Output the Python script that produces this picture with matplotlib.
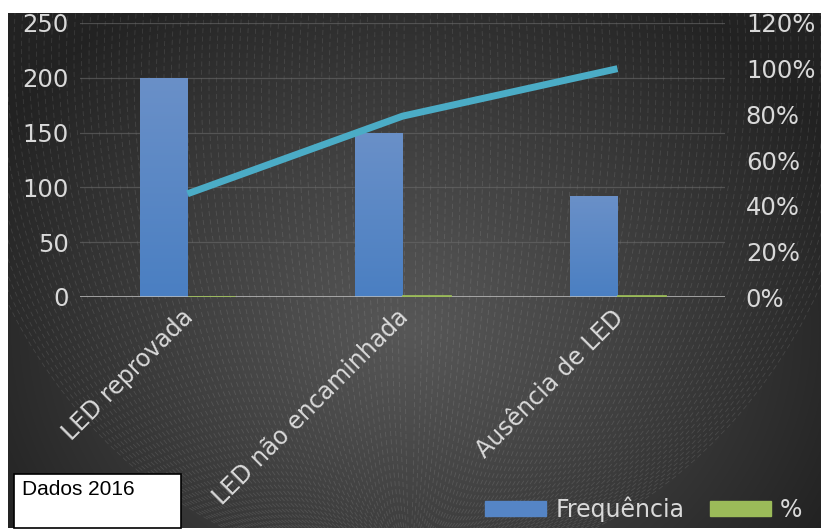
import numpy as np
import matplotlib.pyplot as plt
import matplotlib.transforms as mtransforms
from matplotlib.patches import Rectangle, Patch, Ellipse
from matplotlib.colors import LinearSegmentedColormap
from matplotlib.ticker import FuncFormatter, MultipleLocator

categories = ["LED reprovada", "LED não encaminhada", "Ausência de LED"]
frequencia = [200, 150, 92]
percent_bar = [0.45, 0.79, 1.0]
cumulative_pct = [0.452, 0.792, 1.0]

W, H = 821, 532
fig = plt.figure(figsize=(W / 100, H / 100), dpi=100)
fig.patch.set_facecolor("white")

# background panel (pixel coords, y downward) with radial gradient
bg = fig.add_axes([8 / W, 4 / H, (W - 8) / W, 515 / H])
bg.set_xlim(8, W)
bg.set_ylim(528, 13)
bg.axis("off")
yy, xx = np.mgrid[13:528, 8:W]
cx, cy = 410, 330
r = np.sqrt(((xx - cx) / 1.0) ** 2 + ((yy - cy) / 0.85) ** 2)
v = np.clip(r / 470, 0, 1)
lum = 0.34 - (0.34 - 0.135) * v ** 1.1
img = np.dstack([lum, lum, lum])
bg.imshow(img, extent=[8, W, 528, 13], aspect="auto", zorder=0)
# faint dashed texture of nested ellipses
for a in np.arange(6, 470, 7.5):
    b = 420 + a * 0.25
    e = Ellipse((410, 545 - b + a * 0.06), 2 * a, 2 * b, fill=False, edgecolor="white",
                lw=0.6, alpha=0.11, ls=(0, (6, 4)), zorder=1)
    bg.add_patch(e)

ax = fig.add_axes([80 / W, 1 - 297 / H, 645 / W, 274 / H])
ax.set_facecolor("none")
x = np.arange(len(categories))
bars = ax.bar(x - 0.11, frequencia, width=0.22, color="#5585c6", zorder=3)
grad = LinearSegmentedColormap.from_list("g", ["#4a7fc2", "#6a90c8"])
gimg = np.linspace(0, 1, 256).reshape(-1, 1)
for b in bars:
    b.set_facecolor("none")
    x0, w, h = b.get_x(), b.get_width(), b.get_height()
    im = ax.imshow(gimg, cmap=grad, origin="lower", extent=[x0, x0 + w, 0, h],
                   aspect="auto", zorder=3)
    im.set_clip_path(b)
ax.bar(x + 0.11, percent_bar, width=0.22, color="#9bbb59",
       edgecolor="#9bbb59", linewidth=2.0, zorder=5)
ax.set_xlim(-0.5, 2.5)
ax.set_ylim(0, 250)
ax.yaxis.set_major_locator(MultipleLocator(50))
ax.grid(axis="y", color="#6a6a6a", lw=0.9, alpha=0.6, zorder=0)
ax.axhline(0, color="#bfbfbf", lw=1.8, zorder=4)
for s in ax.spines.values():
    s.set_visible(False)
ax.tick_params(axis="y", length=0, pad=8, labelsize=17.5, labelcolor="#d9d9d9")
ax.set_xticks(x)
ax.set_xticklabels(categories, rotation=45, ha="right", rotation_mode="anchor",
                   fontsize=17, color="#d9d9d9")
ax.tick_params(axis="x", length=0, pad=6)
off = mtransforms.ScaledTranslation(-6 / 100, 0, fig.dpi_scale_trans)
for lab in ax.get_xticklabels():
    lab.set_transform(lab.get_transform() + off)

ax2 = ax.twinx()
ax2.plot(x, cumulative_pct, color="#4bacc6", lw=5, zorder=5, solid_capstyle="butt")
ax2.set_ylim(0, 1.2)
ax2.yaxis.set_major_locator(MultipleLocator(0.2))
ax2.yaxis.set_major_formatter(FuncFormatter(lambda v, p: f"{v * 100:.0f}%"))
ax2.tick_params(axis="y", length=0, pad=15, labelsize=17.5, labelcolor="#d9d9d9")
for s in ax2.spines.values():
    s.set_visible(False)

handles = [Patch(color="#5585c6", label="Frequência"),
           Patch(color="#9bbb59", label="%")]
fig.legend(handles=handles, loc="center", bbox_to_anchor=(644 / W, 1 - 509 / H),
           ncol=2, frameon=False, fontsize=17, labelcolor="#d9d9d9",
           handlelength=2.58, handleheight=0.64, columnspacing=1.1,
           handletextpad=0.38, borderpad=0, borderaxespad=0)

fig.patches.append(Rectangle((14 / W, 1 - 528 / H), 167 / W, 54 / H,
                             transform=fig.transFigure, facecolor="white",
                             edgecolor="black", lw=1.2, zorder=10))
fig.text(22 / W, 1 - 495 / H, "Dados 2016", fontsize=15, color="black",
         family="Liberation Sans", va="baseline", ha="left", zorder=11)

fig.savefig("out.png", dpi=100)
